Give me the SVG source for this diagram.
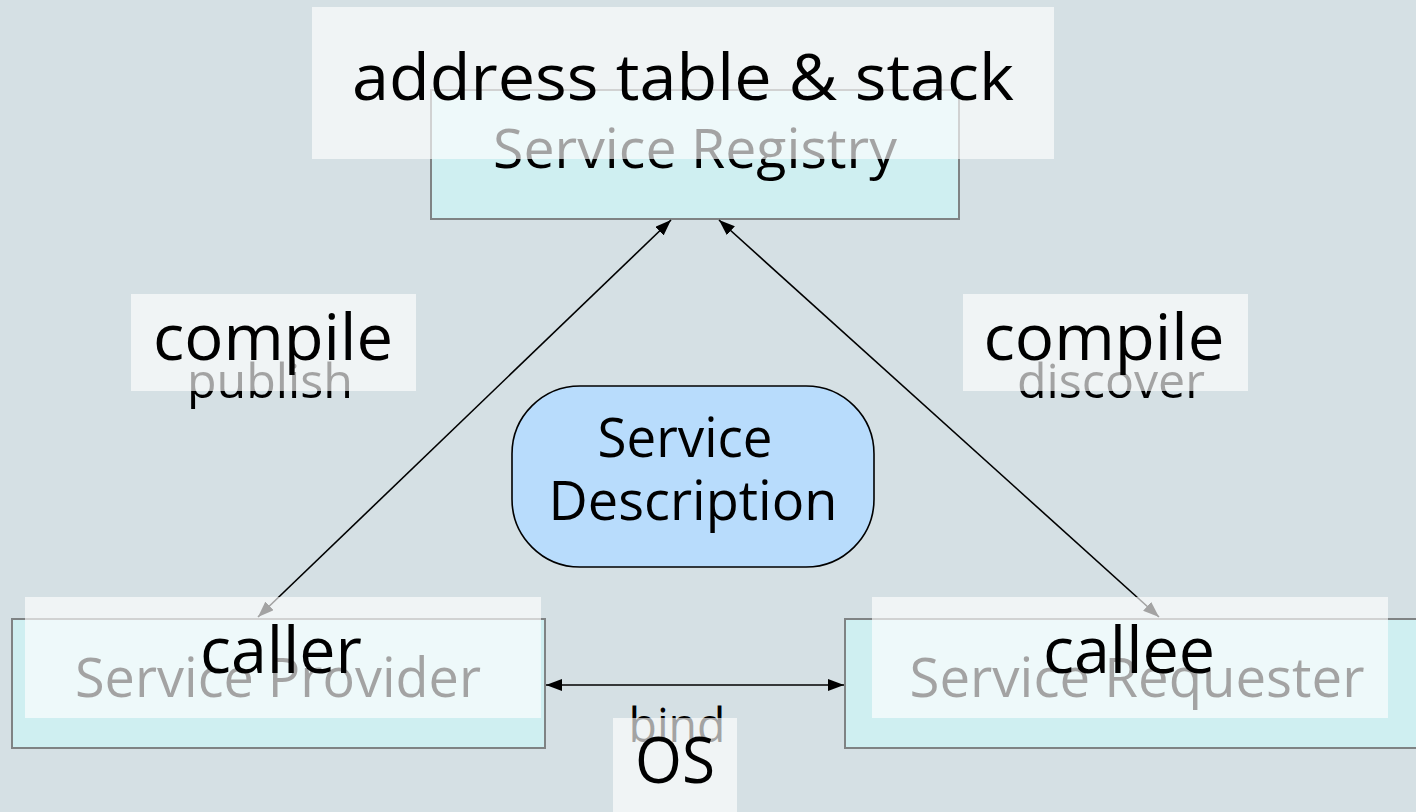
<svg xmlns="http://www.w3.org/2000/svg" width="1416" height="812" viewBox="0 0 1416 812">
  <defs>
    <marker id="arrow" viewBox="0 0 16 12" refX="16" refY="6" markerWidth="16" markerHeight="12" markerUnits="userSpaceOnUse" orient="auto-start-reverse">
      <path d="M0,0 L16,6 L0,12 Z" fill="#000"/>
    </marker>
  </defs>
  <style>
    .box { fill: #cfeff1; stroke: #7f8384; stroke-width: 2; }
    .veil { fill: #ffffff; fill-opacity: 0.64; }
    .t { font-family: "Open Sans", "Noto Sans", "DejaVu Sans", sans-serif; fill: #000; text-anchor: middle; }
    .big { font-size: 64px; }
    .mid { font-size: 54px; }
    .sm { font-size: 48px; }
    .conn { stroke: #000; stroke-width: 1.6; fill: none; }
  </style>
  <rect x="0" y="0" width="1416" height="812" fill="#d5e0e4"/>

  <g id="service-registry">
    <rect class="box" x="431" y="90" width="528" height="129"/>
    <text class="t mid" x="695" y="168" textLength="404" lengthAdjust="spacingAndGlyphs">Service Registry</text>
  </g>
  <g id="service-provider">
    <rect class="box" x="12" y="619" width="533" height="129"/>
    <text class="t mid" x="278" y="697" textLength="406" lengthAdjust="spacingAndGlyphs">Service Provider</text>
  </g>
  <g id="service-requester">
    <rect class="box" x="845" y="619" width="580" height="129"/>
    <text class="t mid" x="1137" y="697" textLength="455" lengthAdjust="spacingAndGlyphs">Service Requester</text>
  </g>

  <g id="connectors">
    <line class="conn" x1="258" y1="617" x2="671" y2="220" marker-start="url(#arrow)" marker-end="url(#arrow)"/>
    <line class="conn" x1="1159" y1="617" x2="719" y2="220" marker-start="url(#arrow)" marker-end="url(#arrow)"/>
    <line class="conn" x1="546" y1="685" x2="844" y2="685" marker-start="url(#arrow)" marker-end="url(#arrow)"/>
  </g>

  <g id="label-publish">
    <text class="t sm" x="270" y="398" textLength="166" lengthAdjust="spacingAndGlyphs">publish</text>
  </g>
  <g id="label-discover">
    <text class="t sm" x="1111" y="398" textLength="188" lengthAdjust="spacingAndGlyphs">discover</text>
  </g>
  <g id="label-bind">
    <text class="t sm" x="677" y="742" textLength="97" lengthAdjust="spacingAndGlyphs">bind</text>
  </g>

  <g id="service-description">
    <rect x="512" y="386" width="362" height="181" rx="68" ry="68" fill="#b8dcfc" stroke="#000" stroke-width="1.6"/>
    <text class="t mid" x="685" y="457" font-size="53" textLength="175" lengthAdjust="spacingAndGlyphs">Service</text>
    <text class="t mid" x="693" y="520" font-size="53" textLength="289" lengthAdjust="spacingAndGlyphs">Description</text>
  </g>

  <g id="overlay-address">
    <rect class="veil" x="312" y="7" width="742" height="152"/>
    <text class="t big" x="683" y="100" font-size="66" textLength="662" lengthAdjust="spacingAndGlyphs">address table &amp; stack</text>
  </g>
  <g id="overlay-compile-left">
    <rect class="veil" x="131" y="294" width="285" height="97"/>
    <text class="t big" x="273" y="360" textLength="240" lengthAdjust="spacingAndGlyphs">compile</text>
  </g>
  <g id="overlay-compile-right">
    <rect class="veil" x="963" y="294" width="285" height="97"/>
    <text class="t big" x="1104" y="360" textLength="241" lengthAdjust="spacingAndGlyphs">compile</text>
  </g>
  <g id="overlay-caller">
    <rect class="veil" x="25" y="597" width="516" height="121"/>
    <text class="t big" x="281" y="673" textLength="162" lengthAdjust="spacingAndGlyphs">caller</text>
  </g>
  <g id="overlay-callee">
    <rect class="veil" x="872" y="597" width="516" height="121"/>
    <text class="t big" x="1129" y="673" textLength="172" lengthAdjust="spacingAndGlyphs">callee</text>
  </g>
  <g id="overlay-os">
    <rect class="veil" x="613" y="718" width="124" height="94"/>
    <text class="t big" x="675" y="783" textLength="80" lengthAdjust="spacingAndGlyphs">OS</text>
  </g>
</svg>
